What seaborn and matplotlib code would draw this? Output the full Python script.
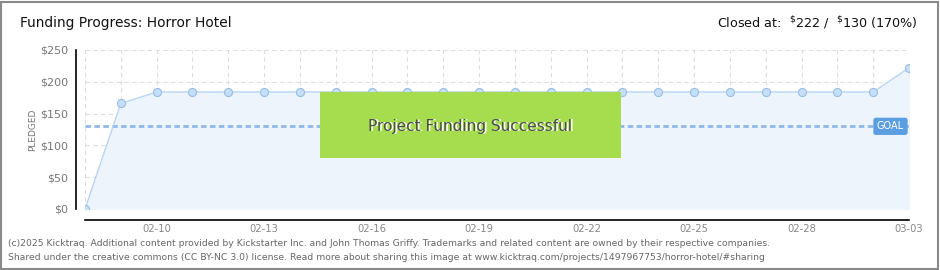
import matplotlib
matplotlib.use("Agg")
import matplotlib.pyplot as plt
import seaborn as sns
import pandas as pd
from matplotlib.patches import Rectangle
from matplotlib.ticker import FixedLocator, MultipleLocator

dates = ["02-08", "02-09", "02-10", "02-11", "02-12", "02-13", "02-14", "02-15",
         "02-16", "02-17", "02-18", "02-19", "02-20", "02-21", "02-22", "02-23",
         "02-24", "02-25", "02-26", "02-27", "02-28", "03-01", "03-02", "03-03"]
pledged = [0, 166, 184, 184, 184, 184, 184, 184, 184, 184, 184, 184, 184, 184,
           184, 184, 184, 184, 184, 184, 184, 184, 184, 222]
goal = 130
label_dates = ["02-10", "02-13", "02-16", "02-19", "02-22", "02-25", "02-28", "03-03"]
y_ticks = [0, 50, 100, 150, 200, 250]
y_labels = ["$0", "$50", "$100", "$150", "$200", "$250"]

df = pd.DataFrame({"idx": range(len(dates)), "date": dates, "pledged": pledged})

sns.set_style("white")
plt.rcParams["font.family"] = ["DejaVu Sans"]

W, H = 940, 270
PX = 72 / 100  # points per pixel
fig = plt.figure(figsize=(W / 100, H / 100), dpi=100)
ax = fig.add_axes([85 / W, (H - 209) / H, 824 / W, 159 / H])

ax.fill_between(df["idx"], df["pledged"], 0, color="#edf4fc", zorder=1)
sns.lineplot(data=df, x="idx", y="pledged", ax=ax, color="#b7d5f5", linewidth=1,
             marker="o", markersize=5.8, markerfacecolor="#c5dff8",
             markeredgecolor="#98bde3", markeredgewidth=0.8, zorder=4)

ax.axhline(goal, color="#8fb8e8", linewidth=2, linestyle=(0, (2, 1.2)), zorder=3)

ax.set_xlim(0, len(dates) - 1)
ax.set_ylim(0, 250)

major_x = [dates.index(d) for d in label_dates]
ax.xaxis.set_major_locator(FixedLocator(major_x))
ax.set_xticklabels(label_dates)
ax.xaxis.set_minor_locator(MultipleLocator(1))
ax.set_yticks(y_ticks)
ax.set_yticklabels(y_labels)
ax.yaxis.set_minor_locator(MultipleLocator(25))

ax.grid(True, which="both", axis="x", color="#dedede", linestyle=(0, (4, 3)), linewidth=0.8, zorder=0)
ax.grid(True, which="major", axis="y", color="#dedede", linestyle=(0, (4, 3)), linewidth=0.8, zorder=0)
ax.set_axisbelow(True)

for s in ["top", "right"]:
    ax.spines[s].set_visible(False)
ax.spines["left"].set_position(("outward", 9 * PX))
ax.spines["bottom"].set_position(("outward", 11 * PX))
for s in ["left", "bottom"]:
    ax.spines[s].set_color("black")
    ax.spines[s].set_linewidth(1.2)

ax.tick_params(axis="y", which="major", direction="out", length=4 * PX, width=1,
               color="black", labelsize=8, labelcolor="#777777", pad=3)
ax.tick_params(axis="y", which="minor", direction="out", length=4 * PX, width=1, color="#e00000")
ax.tick_params(axis="x", which="both", direction="inout", length=6 * PX, width=1,
               color="black", labelsize=7.2, labelcolor="#888888", pad=1)
ax.set_xlabel("")
ax.set_ylabel("PLEDGED", fontsize=6.5, color="#777777", labelpad=2)

# goal label
ax.text(0.994, goal, "GOAL", transform=ax.get_yaxis_transform(), ha="right", va="center",
        fontsize=7, color="white", zorder=6,
        bbox=dict(boxstyle="round,pad=0.3,rounding_size=0.2", fc="#5c9ee2", ec="#5c9ee2"))

# success banner
fig.patches.append(Rectangle((320 / W, (H - 158) / H), 301 / W, 66 / H, transform=fig.transFigure,
                             facecolor="#a6dd4f", edgecolor="none", zorder=5))
fig.text(470.5 / W + 1 / W, (H - 126) / H - 1 / H, "Project Funding Successful", ha="center",
         va="center", fontsize=11, color="white", zorder=6)
fig.text(470.5 / W, (H - 126) / H, "Project Funding Successful", ha="center",
         va="center", fontsize=11, color="#4d4d4d", zorder=7)

# header
fig.text(20 / W, (H - 23) / H, "Funding Progress: Horror Hotel", ha="left", va="center",
         fontsize=9.9, color="#111111")
fig.text(918 / W, (H - 23) / H, r"Closed at:  $^{\$}$222 /  $^{\$}$130 (170%)", ha="right",
         va="center", fontsize=9.2, color="#111111")

# footer
fig.text(8 / W, (H - 243) / H,
         "(c)2025 Kicktraq. Additional content provided by Kickstarter Inc. and John Thomas Griffy. "
         "Trademarks and related content are owned by their respective companies.",
         ha="left", va="center", fontsize=6.7, color="#666666")
fig.text(8 / W, (H - 257) / H,
         "Shared under the creative commons (CC BY-NC 3.0) license. Read more about sharing this image at "
         "www.kicktraq.com/projects/1497967753/horror-hotel/#sharing",
         ha="left", va="center", fontsize=6.7, color="#666666")

# border
fig.patches.append(Rectangle((1 / W, 1 / H), (W - 3) / W, (H - 3) / H, transform=fig.transFigure,
                             facecolor="none", edgecolor="#8a8a8a", linewidth=1.5, zorder=10))

fig.savefig("out.png", dpi=100)
